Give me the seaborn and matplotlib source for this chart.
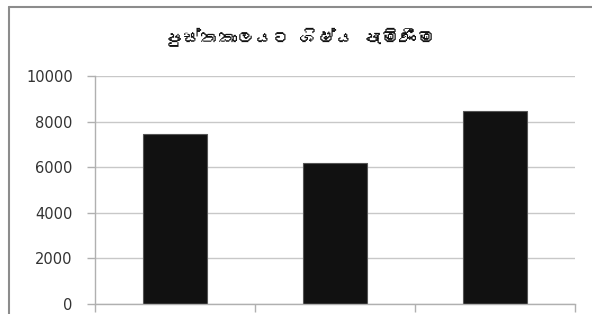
import numpy as np
import matplotlib
matplotlib.use('Agg')
import matplotlib.pyplot as plt
import seaborn as sns
from matplotlib import font_manager
from matplotlib.ft2font import FT2Font
from matplotlib.lines import Line2D

# data
categories = ['1', '2', '3']
values = [7450, 6200, 8450]
y_ticks = [0, 2000, 4000, 6000, 8000, 10000]
# no zero width joiner: matplotlib has no glyph for it
title = 'පුස්තකාලයට ශිෂ්ය පැමිණීම'

sns.set_theme(style='white')

# look for an installed font that has Sinhala glyphs
sinhala_family = None
for f in font_manager.fontManager.ttflist:
    try:
        if 0x0DB4 in FT2Font(f.fname).get_charmap():
            sinhala_family = f.name
            break
    except Exception:
        pass

plt.rcParams['font.family'] = ['DejaVu Sans']

fig = plt.figure(figsize=(5.92, 3.14), dpi=100)
ax = fig.add_axes([95 / 592, 10 / 314, 480 / 592, 228 / 314])

sns.barplot(x=categories, y=values, color='#111111', width=0.4,
            edgecolor='#555555', linewidth=0.8, saturation=1, ax=ax)

ax.set_ylim(0, 10000)
ax.set_yticks(y_ticks)
ax.set_yticklabels([str(t) for t in y_ticks], fontsize=10.5, color='#333333')
ax.set_xlim(-0.5, 2.5)
ax.set_xticks([-0.5, 0.5, 1.5, 2.5])
ax.set_xticklabels([])
ax.set_xlabel('')
ax.set_ylabel('')
ax.yaxis.grid(True, color='#c8c8c8', linewidth=1)
ax.set_axisbelow(True)
for s in ['top', 'right']:
    ax.spines[s].set_visible(False)
for s in ['left', 'bottom']:
    ax.spines[s].set_color('#b0b0b0')
    ax.spines[s].set_linewidth(1)
ax.tick_params(axis='both', which='both', length=6, width=1, color='#b0b0b0',
               direction='out', left=True, bottom=True)
ax.tick_params(axis='y', pad=10)

# outer chart frame: only its top and left edges are in the picture
top_y = 1 - 7 / 314
left_x = 9 / 592
fig.lines.append(Line2D([left_x, 1.0], [top_y, top_y], transform=fig.transFigure,
                        color='#8c8c8c', linewidth=1.5))
fig.lines.append(Line2D([left_x, left_x], [0, top_y], transform=fig.transFigure,
                        color='#8c8c8c', linewidth=1.5))

fam = [sinhala_family, 'DejaVu Sans'] if sinhala_family else ['DejaVu Sans']
fig.text(300 / 592, 1 - 37 / 314, title, ha='center', va='center',
         fontsize=13, color='#111111', family=fam)

fig.savefig('out.png', dpi=100)
